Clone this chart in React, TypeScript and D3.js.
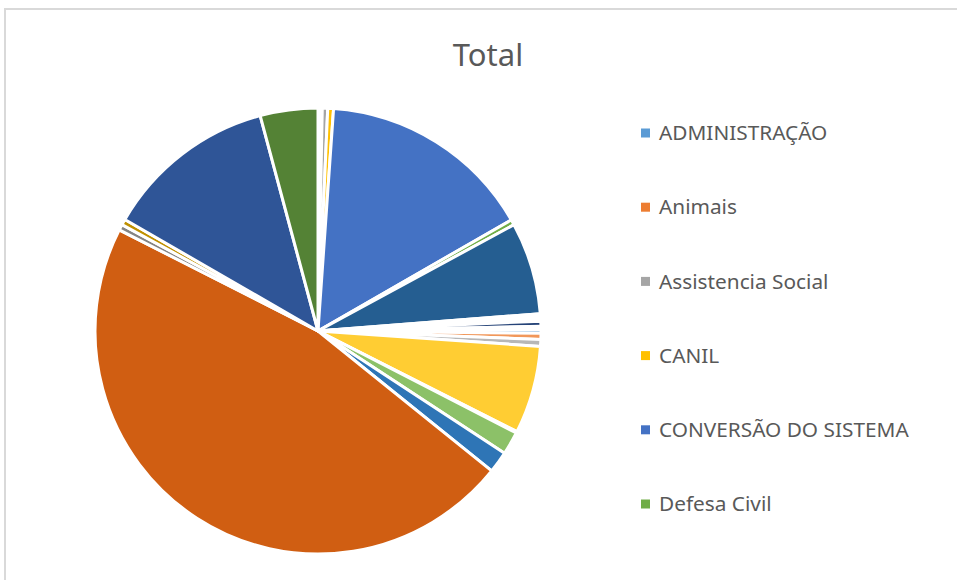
import React from "react";
import * as d3 from "d3";

const categories = [
  "ADMINISTRAÇÃO", "Animais", "Assistencia Social", "CANIL", "CONVERSÃO DO SISTEMA", "Defesa Civil",
  "Educação", "Esporte", "Fazenda", "Fiscalização", "Gabinete", "Habitação",
  "Iluminação Pública", "Meio Ambiente", "Obras", "Ouvidoria", "Planejamento", "Procuradoria",
  "Protocolo", "RH", "Saúde", "Segurança", "Tributação", "Turismo",
];

const values = [
  0.7, 0.4, 1.4, 1.5, 56.0, 1.4,
  24.0, 0.7, 0.6, 0.6, 1.3, 0.8,
  1.0, 1.6, 1.8, 22.8, 0.4, 6.0,
  5.6, 167.8, 1.5, 1.5, 44.9, 15.0,
];

const colors = [
  "#5B9BD5", "#ED7D31", "#A5A5A5", "#FFC000", "#4472C4", "#70AD47",
  "#255E91", "#9E480E", "#636363", "#997300", "#264478", "#43682B",
  "#7CAFDD", "#F1975A", "#B7B7B7", "#FFCD33", "#698ED0", "#8CC168",
  "#2E75B6", "#D05E12", "#848484", "#BF9000", "#2F5597", "#548235",
];

const legendCount = 6;
const title = "Total";

export default function App() {
  const W = 957, H = 580;
  const cx = 318, cy = 331, r = 223;
  const data = categories.map((c, i) => ({ c, v: values[i], color: colors[i] }));
  const pie = d3.pie<any>().value((d) => d.v).sort(null).startAngle(0).endAngle(2 * Math.PI);
  const arcs = pie(data);
  const arc = d3.arc<any>().innerRadius(0).outerRadius(r);
  const legendY = d3.scaleLinear().domain([0, legendCount - 1]).range([133, 504]);
  const font = "'Noto Sans', 'Open Sans', sans-serif";
  return (
    <svg width={W} height={H} style={{ position: "absolute", left: 0, top: 0, background: "#fff" }}>
      <rect x={5} y={9} width={1000} height={1000} fill="#fff" stroke="#D9D9D9" strokeWidth={2} />
      <text x={488} y={66} textAnchor="middle" fontFamily={font} fontSize={31} fill="#595959">{title}</text>
      <g transform={`translate(${cx},${cy})`}>
        {arcs.map((a, i) => (
          <path key={i} d={arc(a) as string} fill={a.data.color} stroke="#fff" strokeWidth={3} strokeLinejoin="round" />
        ))}
      </g>
      <g>
        {data.slice(0, legendCount).map((d, i) => (
          <g key={i} transform={`translate(0,${legendY(i)})`}>
            <rect x={641} y={-4.5} width={9} height={9} fill={d.color} />
            <text x={659} y={0} dy="0.35em" fontFamily={font} fontSize={20.8} fill="#595959">{d.c}</text>
          </g>
        ))}
      </g>
    </svg>
  );
}
